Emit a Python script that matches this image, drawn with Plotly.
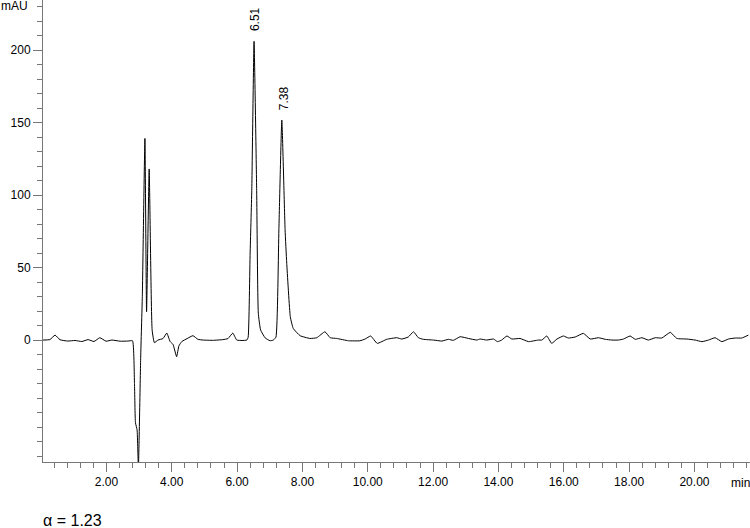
import plotly.graph_objects as go

# Chromatogram: retention time (min) and signal (mAU)
time_min = [0.06, 0.27, 0.43, 0.58, 0.82, 1.04, 1.25, 1.44, 1.62, 1.80, 1.99, 2.17, 2.42, 2.66, 2.80,
            2.86, 2.89, 2.94, 2.98, 3.05, 3.10, 3.18, 3.23, 3.31, 3.40, 3.47, 3.58, 3.73, 3.85, 3.95,
            4.04, 4.15, 4.22, 4.31, 4.47, 4.65, 4.80, 4.96, 5.26, 5.57, 5.72, 5.87, 5.99, 6.15, 6.30,
            6.34, 6.40, 6.45, 6.52, 6.60, 6.65, 6.72, 6.86, 7.01, 7.11, 7.19, 7.28, 7.37, 7.47, 7.52,
            7.63, 7.72, 7.93, 8.23, 8.44, 8.69, 8.85, 9.05, 9.41, 9.76, 9.92, 10.09, 10.29, 10.58,
            10.89, 11.04, 11.24, 11.40, 11.55, 11.70, 12.01, 12.27, 12.47, 12.62, 12.83, 13.08, 13.34,
            13.44, 13.64, 13.85, 13.97, 14.10, 14.26, 14.41, 14.66, 14.92, 15.22, 15.33, 15.48, 15.63,
            15.79, 15.99, 16.14, 16.35, 16.60, 16.81, 17.06, 17.27, 17.47, 17.67, 17.83, 18.03, 18.19,
            18.39, 18.59, 18.80, 19.00, 19.26, 19.46, 19.77, 20.02, 20.23, 20.43, 20.63, 20.84, 21.04,
            21.25, 21.45, 21.65]
signal_mau = [0.0, 0.3, 3.4, 0.2, -0.7, -0.3, -1.0, 0.3, -1.0, 1.6, -0.8, 0.0, -0.8, -0.7, -0.5,
              -30, -57, -62, -88, -11.7, 30, 139, 19.5, 118, 7, -1.8, 0.0, 1.0, 4.8, -1.0,
              -3.0, -11.5, -4.0, -1.0, 1.0, 3.0, 0.5, 0.0, -0.2, 0.3, 1.0, 4.8, 0.0, -0.3, 0.0,
              2.0, 60, 103, 206, 103, 18.6, 7.0, 1.5, -0.5, 0.0, 2.0, 76, 151.7, 76, 53,
              16, 8.0, 3.0, 1.1, 1.6, 5.7, 1.6, 1.1, -0.5, -0.5, 0.7, 2.8, -2.3, 0.5,
              1.6, 0.7, 2.1, 5.7, 1.6, 0.5, 0.0, -0.7, 0.5, -0.2, 2.3, 1.1, 0.0,
              0.7, 0.0, 0.7, -1.1, 0.0, 2.8, 0.7, 1.1, -1.1, 0.0, 0.0, 2.8, -2.3,
              0.7, 2.8, 1.4, 2.1, 4.6, 0.7, 1.6, 0.5, 0.0, 0.0, 0.7, 2.8, 0.5,
              1.6, 0.0, 1.6, 1.4, 5.3, 1.1, 0.7, 0.0, -1.1, 0.0, 1.6, -1.1, 0.7,
              1.4, 1.4, 3.4]

# labelled peaks
peak_times = [6.51, 7.38]
peak_heights = [206, 151.7]
peak_labels = ["6.51", "7.38"]

x_ticks = [2, 4, 6, 8, 10, 12, 14, 16, 18, 20]
x_labels = ["%.2f" % v for v in x_ticks]
y_ticks = [0, 50, 100, 150, 200]
y_labels = [str(v) for v in y_ticks]

fig = go.Figure()
fig.add_trace(go.Scatter(x=time_min, y=signal_mau, mode="lines",
                         line=dict(color="black", width=1, shape="spline", smoothing=0.4),
                         showlegend=False))

# retention time labels above the peaks
for t, h, lab in zip(peak_times, peak_heights, peak_labels):
    fig.add_annotation(x=t, y=h, text=lab, textangle=-90, showarrow=False,
                       xanchor="center", yanchor="bottom", yshift=8, xshift=2,
                       font=dict(size=12, color="black"))

# axis caption text
fig.add_annotation(x=0, y=1, xref="paper", yref="paper", xshift=-44, text="mAU",
                   showarrow=False, xanchor="left", yanchor="middle", yshift=-6,
                   font=dict(size=12, color="black"))
fig.add_annotation(x=1, y=0, xref="paper", yref="paper", text="min", showarrow=False,
                   xanchor="right", yanchor="middle", yshift=-21, xshift=2,
                   font=dict(size=12, color="black"))
fig.add_annotation(x=0, y=0, xref="paper", yref="paper", text="α = 1.23", showarrow=False,
                   xanchor="left", yanchor="middle", yshift=-58, xshift=-2,
                   font=dict(size=16, color="black", family="Liberation Sans"))

fig.update_xaxes(range=[0.06, 21.70], tickmode="array", tickvals=x_ticks, ticktext=x_labels,
                 ticks="outside", ticklen=9, tickcolor="#777", showline=True, linecolor="#777",
                 linewidth=1, showgrid=False, zeroline=False, automargin=False,
                 minor=dict(tick0=0, dtick=0.4, ticks="outside", ticklen=5, tickcolor="#777"),
                 tickfont=dict(size=12, color="black"))
fig.update_yaxes(range=[-84.1, 234.5], tickmode="array", tickvals=y_ticks, ticktext=y_labels,
                 ticks="outside", ticklen=9, tickcolor="#777", showline=True, linecolor="#777",
                 linewidth=1, showgrid=False, zeroline=False, automargin=False,
                 minor=dict(tick0=0, dtick=10, ticks="outside", ticklen=5, tickcolor="#777"),
                 tickfont=dict(size=12, color="black"))

fig.update_layout(width=750, height=528, margin=dict(l=43, r=0, t=0, b=66),
                  paper_bgcolor="white", plot_bgcolor="white",
                  font=dict(family="Liberation Sans, Arial, sans-serif", color="black"))

# drop the page's default body margin so the figure sits at the window corner
fig.write_html("out.html", config={"displayModeBar": False},
               post_script="document.body.style.margin='0';")
